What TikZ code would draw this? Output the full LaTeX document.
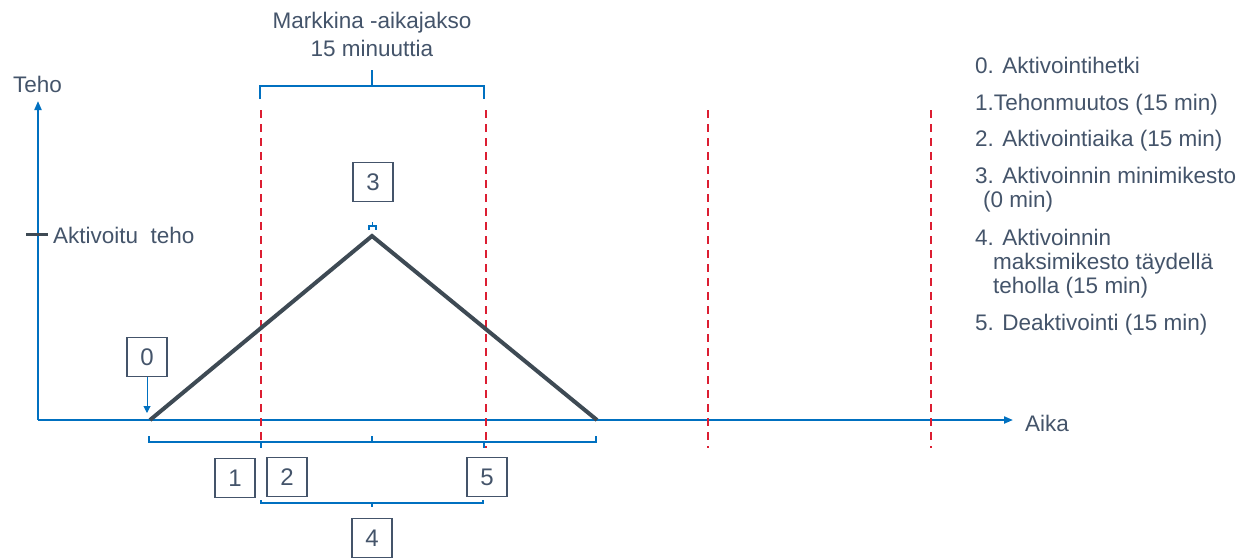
\documentclass[tikz,border=0pt]{standalone}
\usepackage{fontspec}
\setmainfont{Liberation Sans}
\usetikzlibrary{arrows.meta}
\definecolor{txtgray}{HTML}{44546A}
\definecolor{linegray}{HTML}{3E4A54}
\definecolor{axisblue}{HTML}{0070C0}
\definecolor{markred}{HTML}{DC1E32}
\tikzset{
  numbox/.style={draw=txtgray, line width=1.5pt, minimum width=40pt, minimum height=39pt, inner sep=0pt, text=txtgray, font=\fontsize{24}{28}\selectfont},
  lbl/.style={text=txtgray, inner sep=0pt, anchor=base west},
  clbl/.style={text=txtgray, inner sep=0pt, anchor=base},
  brace/.style={draw=axisblue, line width=2pt},
  period/.style={draw=markred, line width=2pt, dash pattern=on 8pt off 6pt},
}
\begin{document}
\begin{tikzpicture}[x=1pt,y=-1pt,font=\fontsize{22.5}{27}\selectfont]
\useasboundingbox (0,0) rectangle (1238,557);
% axes
\coordinate (o) at (38,420);
\coordinate (ytop) at (38,101);
\coordinate (xend) at (1013,420);
\path[draw,axisblue,line width=2pt,-{Triangle[length=9pt,width=7pt]}] (o) -- (ytop);
\path[draw,axisblue,line width=2pt,-{Triangle[length=9pt,width=7pt]}] (o) -- (xend);
\node[lbl] (teho) at (13,92.7) {Teho};
\node[lbl] (aika) at (1025,431) {Aika};
\path[draw,linegray,line width=3pt] (26,234) -- (48,234);
\node[lbl] (akt) at (53,243) {Aktivoitu\ \ teho};
% market periods
\foreach \x in {261,486,708,931}
  \path[period] (\x,110) -- (\x,448);
% power curve
\coordinate (start) at (150,420);
\coordinate (peak) at (372,236);
\coordinate (stop) at (597,420);
\path[draw,linegray,line width=4pt] (start) -- (peak) -- (stop);
% top bracket
\path[brace] (260,99) -- (260,86) -- (484,86) -- (484,99);
\path[brace] (372,86) -- (372,70);
\node[clbl] (mk1) at (372,28.5) {Markkina -aikajakso};
\node[clbl] (mk2) at (372,56.7) {15 minuuttia};
% peak bracket
\path[brace,line width=1.5pt] (369,230) -- (369,226) -- (376,226) -- (376,230);
\path[brace,line width=1.5pt] (372.5,226) -- (372.5,222);
% lower brackets
\path[brace] (149,436) -- (149,442) -- (372,442) -- (372,436);
\path[brace] (261,442) -- (261,448);
\path[brace] (372,436) -- (372,442) -- (596,442) -- (596,436);
\path[brace] (484,442) -- (484,448);
\path[brace,line width=1.5pt] (261,500) -- (261,503) -- (483,503) -- (483,500);
\path[brace,line width=1.5pt] (372,503) -- (372,507);
% numbered boxes
\node[numbox] (b0) at (147,357) {0};
\node[numbox] (b1) at (235,478) {1};
\node[numbox] (b2) at (287,477) {2};
\node[numbox] (b3) at (373,182) {3};
\node[numbox] (b4) at (372,538) {4};
\node[numbox] (b5) at (487,477) {5};
\coordinate (b0tip) at (147,413);
\path[draw,axisblue,line width=1pt,-{Triangle[length=7pt,width=7pt]}] (b0) -- (b0tip);
% legend
\node[lbl] (l0) at (975,73.3) {0. Aktivointihetki};
\node[lbl] (l1) at (975,110) {1.Tehonmuutos (15 min)};
\node[lbl] (l2) at (975,146.5) {2. Aktivointiaika (15 min)};
\node[lbl] (l3) at (975,183) {3. Aktivoinnin minimikesto};
\node[lbl] (l3b) at (983,207.5) {(0 min)};
\node[lbl] (l4) at (975,245) {4. Aktivoinnin};
\node[lbl] (l4b) at (993,269) {maksimikesto täydellä};
\node[lbl] (l4c) at (993,293) {teholla (15 min)};
\node[lbl] (l5) at (975,330) {5. Deaktivointi (15 min)};
\end{tikzpicture}
\end{document}
